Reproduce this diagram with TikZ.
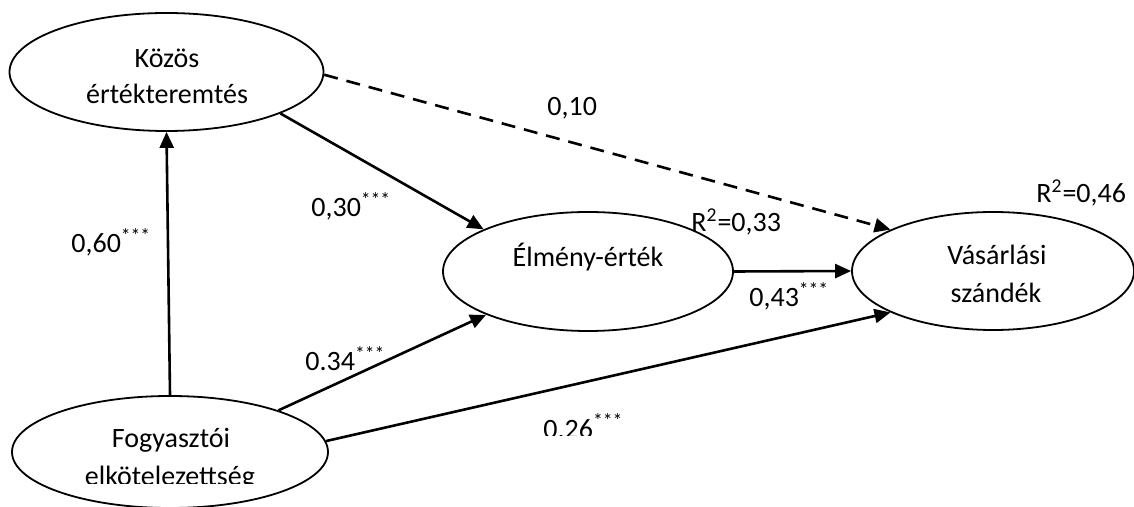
\documentclass[tikz,border=0pt]{standalone}
\usepackage{fontspec}
\setmainfont{Carlito}
\usetikzlibrary{arrows.meta,shapes.geometric}
\begin{document}
\begin{tikzpicture}[x=0.5pt,y=-0.5pt,
  latent/.style={ellipse, draw, line width=0.9pt, inner sep=0pt},
  pathline/.style={line width=1.3pt, -{Triangle[length=8pt,width=7pt]}},
  txt/.style={anchor=base, inner sep=0pt, font=\fontsize{14}{17}\selectfont},
  lbl/.style={anchor=base west, inner sep=0pt, font=\fontsize{14}{17}\selectfont}]
\useasboundingbox (0,0) rectangle (1134,507);

% latent constructs
\node[latent, minimum width=157pt, minimum height=59pt]   (kozos)  at (166.5,72) {};
\node[latent, minimum width=158pt, minimum height=56pt]   (fogy)   at (170,452) {};
\node[latent, minimum width=145pt, minimum height=59.5pt] (elmeny) at (588,271.5) {};
\node[latent, minimum width=141pt, minimum height=59pt]   (vasar)  at (993,271) {};

% construct names
\node[txt] (tkozos1) at (167,68) {Közös};
\node[txt] (tkozos2) at (167,104) {értékteremtés};
\node[txt] (tfogy1)  at (171,447) {Fogyasztói};
\begin{scope}
  \clip (0,0) rectangle (1134,483.5);
  \node[txt] (tfogy2) at (170,485) {elkötelezettség};
\end{scope}
\node[txt] (telm)  at (588,267) {Élmény-érték};
\node[txt] (tvas1) at (997,265) {Vásárlási};
\node[txt] (tvas2) at (996,303) {szándék};

% structural paths
\draw[pathline] (fogy.north) -- (kozos.south);
\draw[pathline] (kozos.-20) -- (elmeny.158);
\draw[pathline, dash pattern=on 7pt off 4.5pt] (kozos.-1) -- (vasar.158);
\draw[pathline] (elmeny.east) -- (vasar.west);
\draw[pathline] (fogy.21) -- (elmeny.203);
\draw[pathline] (fogy.4) -- (vasar.202);

% coefficients and explained variance
\node[lbl] (c10) at (547,116) {0,10};
\node[lbl] (c30) at (311,217) {0,30\textsuperscript{***}};
\node[lbl] (r33) at (691,232) {R\textsuperscript{2}=0,33};
\node[lbl] (r46) at (1036,203) {R\textsuperscript{2}=0,46};
\node[lbl] (c43) at (749,307) {0,43\textsuperscript{***}};
\node[lbl] (c60) at (71,253) {0,60\textsuperscript{***}};
\node[lbl] (c34) at (305,371) {0.34\textsuperscript{***}};
\begin{scope}
  \clip (0,0) rectangle (1134,435);
  \node[lbl] (c26) at (543,438) {0.26\textsuperscript{***}};
\end{scope}
\end{tikzpicture}
\end{document}
